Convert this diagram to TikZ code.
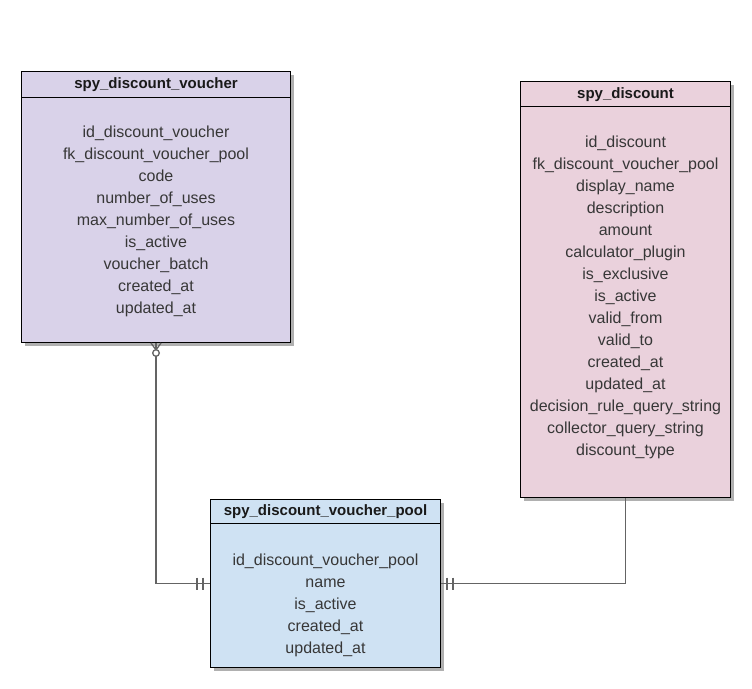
\documentclass[tikz,border=0pt]{standalone}
\usepackage{fontspec}
\setmainfont{Liberation Sans}
\usetikzlibrary{calc}
\definecolor{vfill}{RGB}{217,210,233}
\definecolor{dfill}{RGB}{234,209,220}
\definecolor{pfill}{RGB}{207,226,243}
\definecolor{shad}{RGB}{176,176,176}
\definecolor{conn}{RGB}{100,100,100}
\definecolor{bodytext}{RGB}{55,55,55}
\tikzset{
  tbl/.style={draw=black, line width=1pt, anchor=north west, inner sep=0pt},
  hdr/.style={font=\fontsize{15}{18}\selectfont\bfseries, text=black!90, anchor=center},
  rows/.style={font=\fontsize{16}{22}\selectfont, text=bodytext, align=center, anchor=north},
  rel/.style={draw=conn, line width=1.4pt},
  relmark/.style={draw=conn, line width=1.3pt}
}
\begin{document}
\begin{tikzpicture}[x=1pt,y=-1pt]
\useasboundingbox (0,0) rectangle (752,688);
% shadows
\fill[shad] (25,75) rectangle (294,346);
\fill[shad] (524,85) rectangle (734,501);
\fill[shad] (214,503) rectangle (444,671);
% tables
\node[tbl, fill=vfill, minimum width=269pt, minimum height=271pt] (v) at (21,71) {};
\node[tbl, fill=dfill, minimum width=210pt, minimum height=416pt] (d) at (520,81) {};
\node[tbl, fill=pfill, minimum width=230pt, minimum height=168pt] (p) at (210,499) {};
\draw[line width=1pt] ($(v.north west)+(0,26)$) -- ($(v.north east)+(0,26)$);
\draw[line width=1pt] ($(d.north west)+(0,25)$) -- ($(d.north east)+(0,25)$);
\draw[line width=1pt] ($(p.north west)+(0,24)$) -- ($(p.north east)+(0,24)$);
% headers
\node[hdr] (vh) at ($(v.north)+(0,14)$) {spy\_discount\_voucher};
\node[hdr] (dh) at ($(d.north)+(0,14)$) {spy\_discount};
\node[hdr] (ph) at ($(p.north)+(0,13)$) {spy\_discount\_voucher\_pool};
% rows
\node[rows] (vr) at ($(v.north)+(0,51.5)$) {id\_discount\_voucher\\fk\_discount\_voucher\_pool\\code\\number\_of\_uses\\max\_number\_of\_uses\\is\_active\\voucher\_batch\\created\_at\\updated\_at};
\node[rows] (dr) at ($(d.north)+(0,51.5)$) {id\_discount\\fk\_discount\_voucher\_pool\\display\_name\\description\\amount\\calculator\_plugin\\is\_exclusive\\is\_active\\valid\_from\\valid\_to\\created\_at\\updated\_at\\decision\_rule\_query\_string\\collector\_query\_string\\discount\_type};
\node[rows] (pr) at ($(p.north)+(0,51.5)$) {id\_discount\_voucher\_pool\\name\\is\_active\\created\_at\\updated\_at};
% connectors
\draw[rel] (v.south) |- (p.west);
\draw[rel] (d.south) |- (p.east);
% crow's foot zero-or-many at voucher
\draw[relmark] ($(v.south)+(-5,0)$) -- ($(v.south)+(0,7)$) -- ($(v.south)+(5,0)$);
\draw[relmark, fill=white] ($(v.south)+(0,10)$) circle (3.3pt);
% one-and-only-one bars
\draw[relmark] ($(p.west)+(-13,-6)$) -- ($(p.west)+(-13,6)$);
\draw[relmark] ($(p.west)+(-7,-6)$) -- ($(p.west)+(-7,6)$);
\draw[relmark] ($(p.east)+(6,-6)$) -- ($(p.east)+(6,6)$);
\draw[relmark] ($(p.east)+(12,-6)$) -- ($(p.east)+(12,6)$);
\end{tikzpicture}
\end{document}
